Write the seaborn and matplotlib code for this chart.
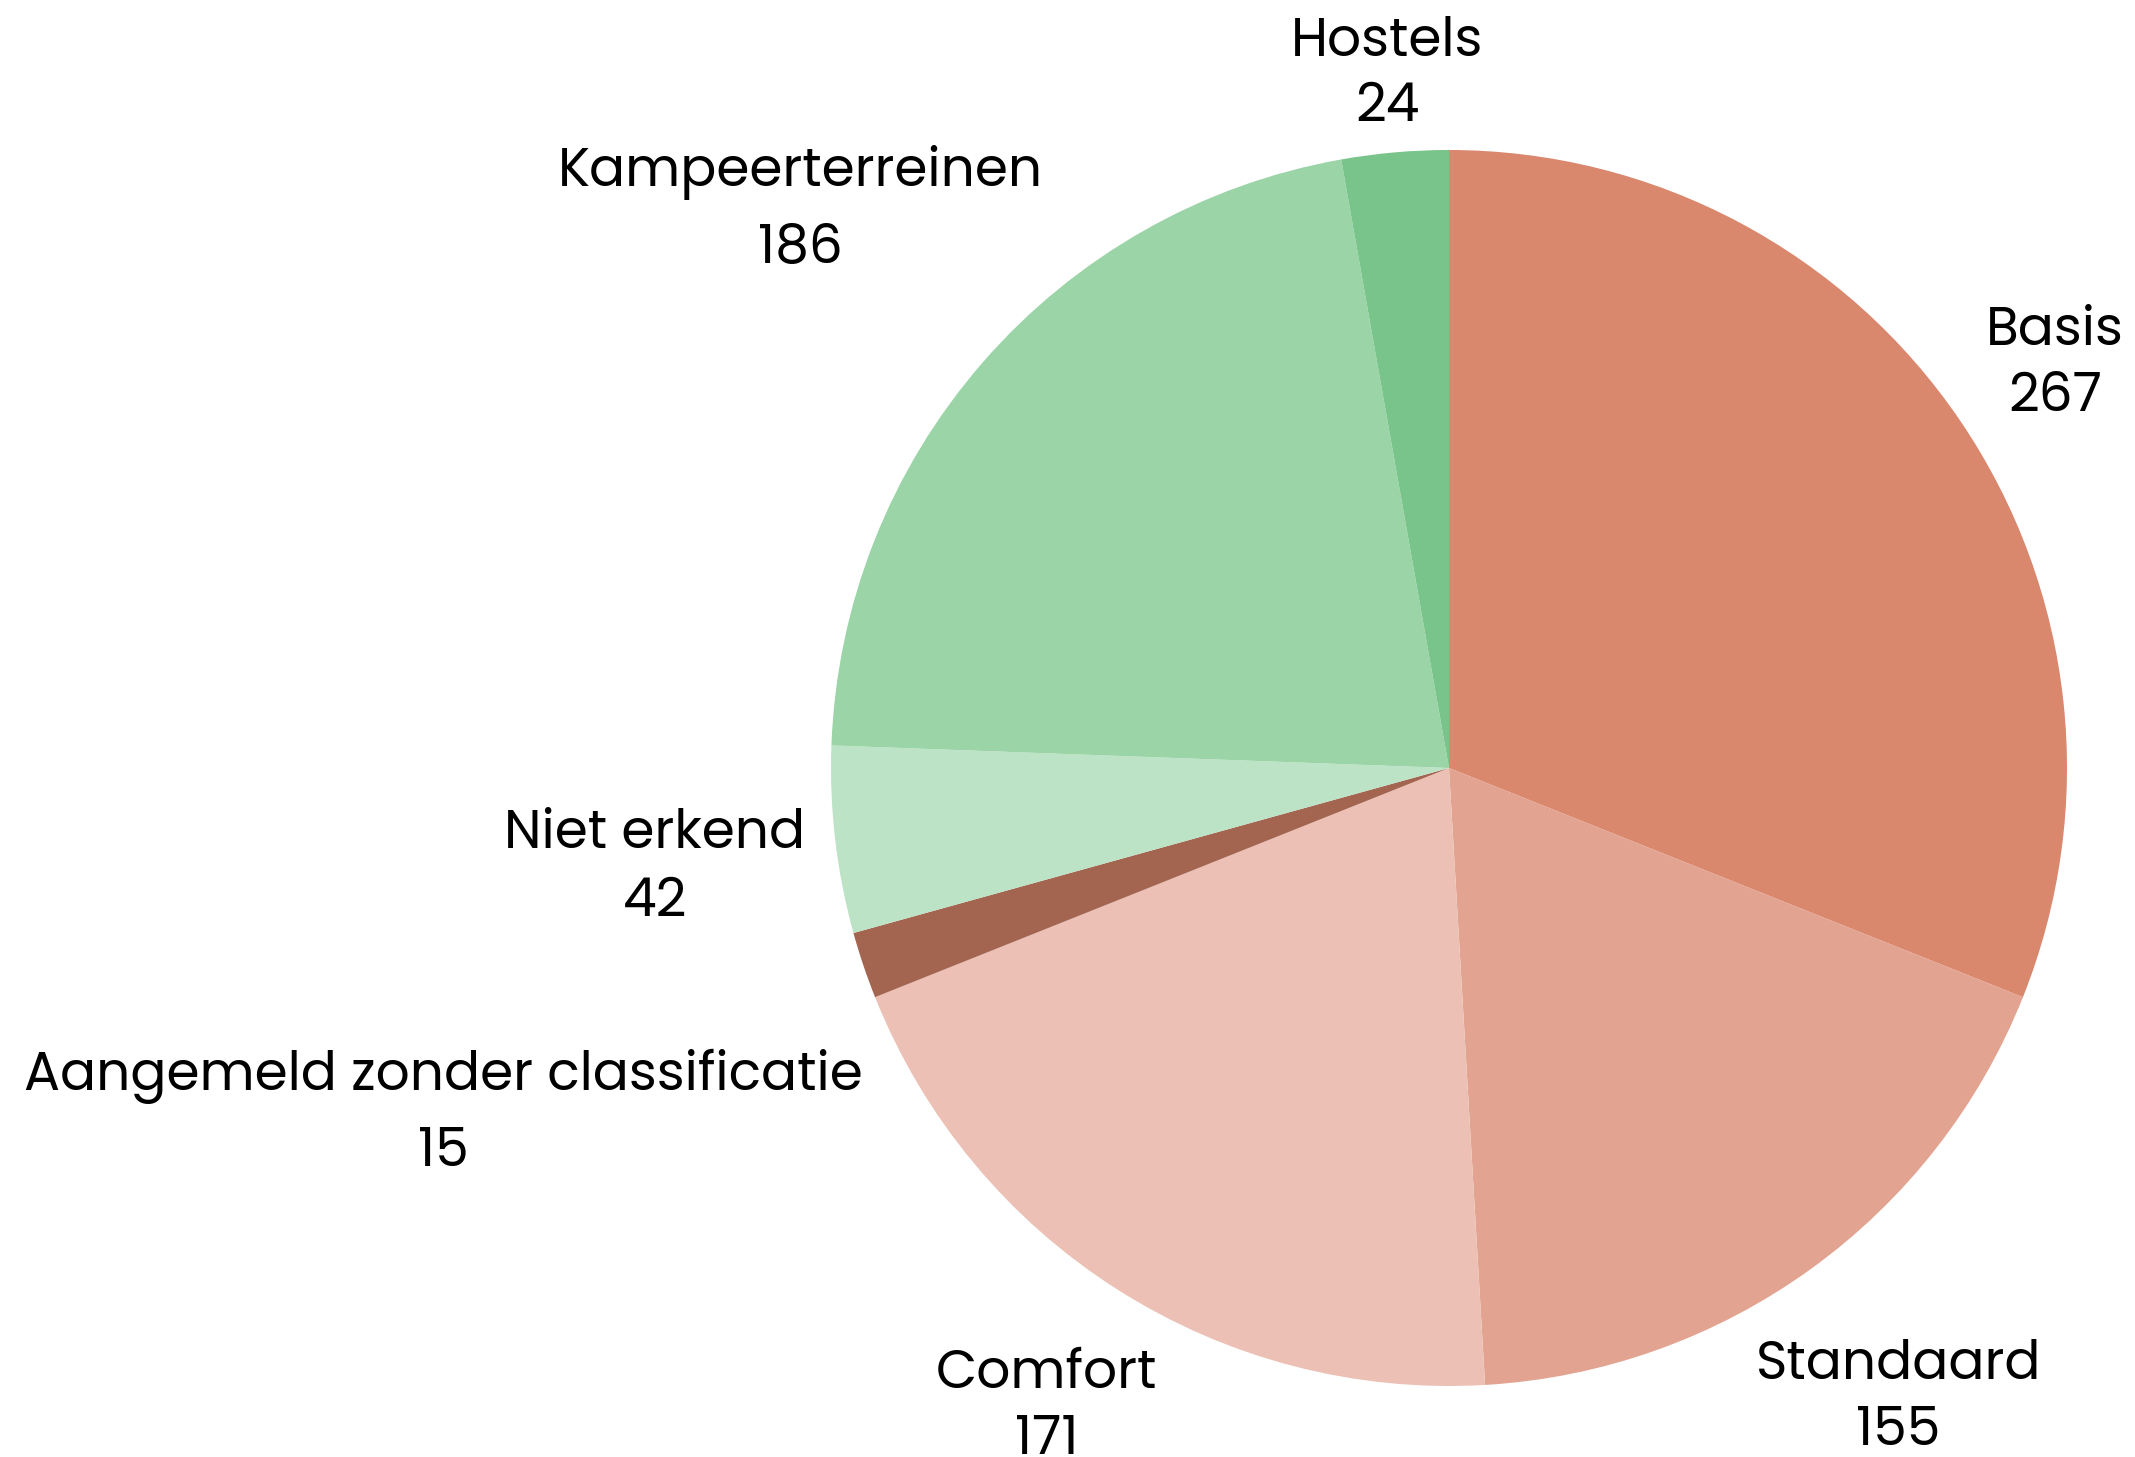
import numpy as np
import matplotlib
matplotlib.use("Agg")
import matplotlib.pyplot as plt
import seaborn as sns

sns.set_theme(style="white")
plt.rcParams['font.family'] = ['Poppins', 'Lato', 'DejaVu Sans']

# Data
categories = ['Basis', 'Standaard', 'Comfort', 'Aangemeld zonder classificatie',
              'Niet erkend', 'Kampeerterreinen', 'Hostels']
values = [267, 155, 171, 15, 42, 186, 24]
colors = ['#D9876D', '#E2A390', '#ECC0B4', '#A36450', '#BDE3C6', '#9BD4A7', '#78C48A']

# Layout: label distance (in radii) and gap between name and value lines
label_dist = [1.185, 1.244, 1.213, 1.718, 1.294, 1.391, 1.137]
line_gap = [0.107, 0.107, 0.107, 0.124, 0.110, 0.126, 0.104]

fig = plt.figure(figsize=(21.35, 14.57), dpi=100)
ax = fig.add_axes([0, 0, 1, 1])

wedges, _ = ax.pie(values, colors=colors, startangle=90, counterclock=False,
                   radius=1, wedgeprops=dict(linewidth=0))

total = sum(values)
start = 90.0
for name, v, d, g in zip(categories, values, label_dist, line_gap):
    sweep = 360.0 * v / total
    mid = np.deg2rad(start - sweep / 2)
    start -= sweep
    x, y = d * np.cos(mid), d * np.sin(mid) - 0.012
    ax.text(x, y + g / 2, name, ha='center', va='center', fontsize=38.5, color='black')
    ax.text(x, y - g / 2, str(v), ha='center', va='center', fontsize=38.5, color='black')

# place pie: centre at (1449, 768) px, radius 618 px
r_px = 618.0
ax.set_xlim(-1449 / r_px, (2135 - 1449) / r_px)
ax.set_ylim(-(1457 - 768) / r_px, 768 / r_px)
ax.set_aspect('equal')
ax.axis('off')

fig.savefig('out.png', dpi=100, facecolor='white')
